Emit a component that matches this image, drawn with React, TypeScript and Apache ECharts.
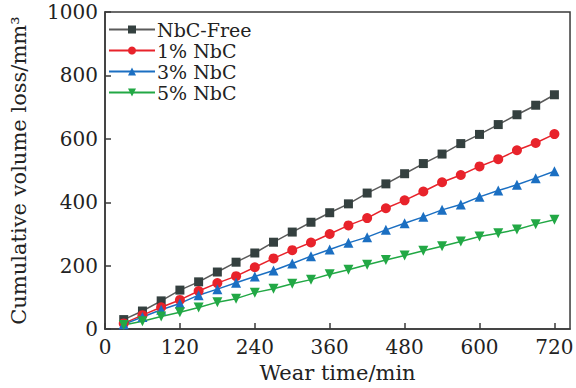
import React, { useEffect, useRef } from "react";
import * as echarts from "echarts";

const times = [30, 60, 90, 120, 150, 180, 210, 240, 270, 300, 330, 360, 390, 420, 450, 480, 510, 540, 570, 600, 630, 660, 690, 720];
const nbcFree = [30, 57, 89, 123, 149, 180, 211, 240, 274, 306, 337, 367, 395, 429, 458, 490, 522, 552, 585, 614, 645, 676, 706, 739];
const nbc1 = [18, 44, 69, 92, 120, 145, 167, 195, 223, 249, 273, 300, 327, 350, 381, 406, 434, 463, 486, 513, 536, 564, 587, 615];
const nbc3 = [15, 38, 61, 81, 107, 126, 146, 166, 185, 207, 230, 251, 272, 290, 313, 334, 354, 376, 393, 417, 437, 455, 476, 498];
const nbc5 = [13, 25, 40, 53, 68, 85, 96, 115, 127, 143, 156, 173, 187, 203, 218, 232, 247, 261, 276, 292, 302, 314, 331, 345];
const seriesNames = ["NbC-Free", "1% NbC", "3% NbC", "5% NbC"];
const xTicks = [0, 120, 240, 360, 480, 600, 720];

const FONT = "DejaVu Serif";

export default function App() {
  const ref = useRef<HTMLDivElement>(null);
  useEffect(() => {
    if (!ref.current) return;
    const chart = echarts.init(ref.current, undefined, { renderer: "svg" });
    const pair = (arr: number[]) => times.map((t, i) => [t, arr[i]]);
    const mk = (name: string, data: number[], color: string, lineColor: string, symbol: string, size: number, rotate = 0) => ({
      name,
      type: "line",
      data: pair(data),
      symbol,
      symbolSize: size,
      symbolRotate: rotate,
      showAllSymbol: true,
      itemStyle: { color, opacity: 1 },
      lineStyle: { color: lineColor, width: 1.5 },
      z: 3,
    });
    chart.setOption({
      animation: false,
      backgroundColor: "#ffffff",
      grid: {
        left: 90,
        top: 12,
        right: 3,
        bottom: 55,
        show: true,
        borderColor: "#3a3a3a",
        borderWidth: 1.5,
        containLabel: false,
      },
      legend: {
        left: 108,
        top: 19,
        orient: "vertical",
        padding: 0,
        itemGap: 0,
        itemWidth: 46,
        itemHeight: 10,
        data: seriesNames,
        textStyle: { fontFamily: FONT, fontSize: 19, color: "#222", lineHeight: 21, padding: [0, 0, 0, -3] },
      },
      xAxis: {
        type: "value",
        min: 0,
        max: 745,
        interval: 120,
        name: "Wear time/min",
        nameLocation: "middle",
        nameGap: 30,
        nameTextStyle: { fontFamily: FONT, fontSize: 21, color: "#222" },
        axisLine: { show: true, lineStyle: { color: "#3a3a3a", width: 1.5 } },
        axisTick: { show: true, inside: true, length: 6, lineStyle: { color: "#3a3a3a", width: 1.5 } },
        axisLabel: {
          fontFamily: FONT,
          fontSize: 20,
          color: "#222",
          margin: 8,
          showMaxLabel: false,
          formatter: (v: number) => (xTicks.includes(v) ? String(v) : ""),
        },
        splitLine: { show: false },
      },
      yAxis: {
        type: "value",
        min: 0,
        max: 1000,
        interval: 200,
        name: "Cumulative volume loss/mm³",
        nameLocation: "middle",
        nameGap: 76,
        nameTextStyle: { fontFamily: FONT, fontSize: 21, color: "#222" },
        axisLine: { show: true, lineStyle: { color: "#3a3a3a", width: 1.5 } },
        axisTick: { show: true, inside: true, length: 6, lineStyle: { color: "#3a3a3a", width: 1.5 } },
        axisLabel: { fontFamily: FONT, fontSize: 20, color: "#222", margin: 7, formatter: (v: number) => String(v) },
        splitLine: { show: false },
      },
      series: [
        mk(seriesNames[0], nbcFree, "#34403f", "#5a5a5a", "rect", 9),
        mk(seriesNames[1], nbc1, "#e8232b", "#e8232b", "circle", 10),
        mk(seriesNames[2], nbc3, "#1b6fc2", "#1b6fc2", "triangle", 10),
        mk(seriesNames[3], nbc5, "#22a845", "#22a845", "triangle", 10, 180),
      ],
    });
    return () => chart.dispose();
  }, []);
  return <div ref={ref} style={{ width: 576, height: 388, position: "absolute", left: 0, top: 0 }} />;
}
